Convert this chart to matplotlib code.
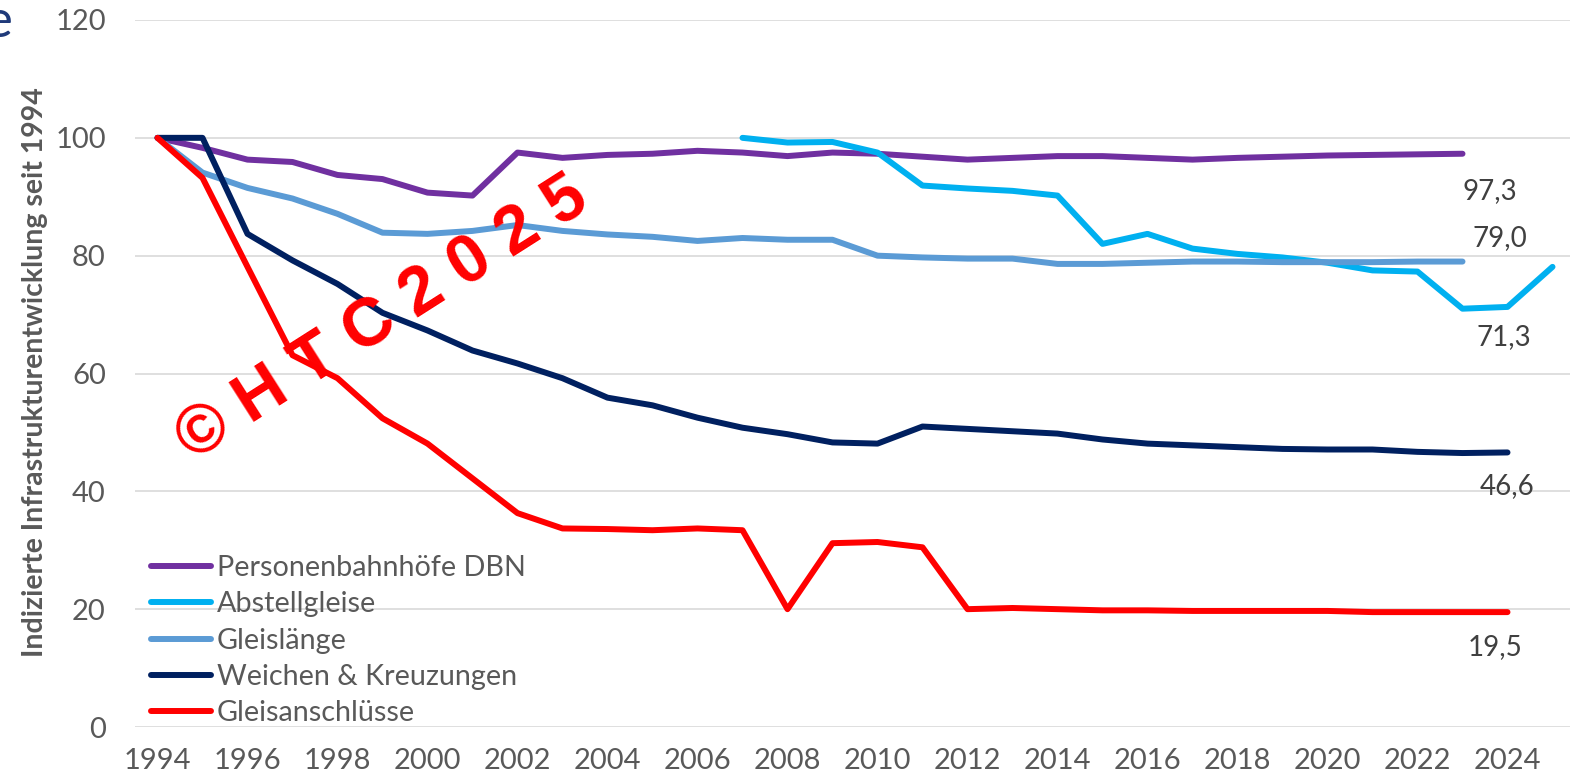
import matplotlib
matplotlib.use("Agg")
import matplotlib.pyplot as plt
import numpy as np

plt.rcParams['font.family'] = ['Lato', 'DejaVu Sans']

years = list(range(1994, 2026))

# Indexwerte (1994 = 100), None = keine Daten
personenbahnhoefe = [100, 98.3, 96.3, 95.9, 93.7, 93.0, 90.7, 90.2, 97.5, 96.6,
                     97.1, 97.3, 97.8, 97.5, 96.9, 97.5, 97.3, 96.8, 96.3, 96.6,
                     96.9, 96.9, 96.6, 96.3, 96.6, 96.8, 97.0, 97.1, 97.2, 97.3,
                     None, None]
abstellgleise = [None] * 13 + [100, 99.2, 99.3, 97.5, 91.9, 91.4, 91.0, 90.2,
                               82.0, 83.7, 81.2, 80.3, 79.7, 78.8, 77.5, 77.3,
                               71.0, 71.3, 78.1]
gleislaenge = [100, 94.1, 91.5, 89.7, 87.1, 83.9, 83.7, 84.2, 85.2, 84.2,
               83.6, 83.2, 82.5, 83.0, 82.7, 82.7, 80.0, 79.7, 79.5, 79.5,
               78.6, 78.6, 78.8, 79.0, 79.0, 78.9, 78.9, 78.9, 79.0, 79.0,
               None, None]
weichen = [100, 100, 83.7, 79.2, 75.2, 70.3, 67.3, 63.9, 61.7, 59.2,
           55.9, 54.6, 52.5, 50.8, 49.7, 48.3, 48.1, 51.0, 50.6, 50.2,
           49.8, 48.8, 48.1, 47.8, 47.5, 47.2, 47.1, 47.1, 46.7, 46.5,
           46.6, None]
gleisanschluesse = [100, 93.2, 78.1, 63.1, 59.2, 52.4, 48.1, 42.2, 36.3, 33.7,
                    33.6, 33.4, 33.7, 33.4, 20.0, 31.2, 31.4, 30.5, 20.0, 20.2,
                    20.0, 19.8, 19.8, 19.7, 19.7, 19.7, 19.7, 19.5, 19.5, 19.5,
                    19.5, None]

series_names = ["Personenbahnhöfe DBN", "Abstellgleise", "Gleislänge",
                "Weichen & Kreuzungen", "Gleisanschlüsse"]
series_values = [personenbahnhoefe, abstellgleise, gleislaenge, weichen, gleisanschluesse]
colors = ["#7030A0", "#00B0F0", "#5B9BD5", "#002060", "#FF0000"]

# Datenbeschriftung: Jahr des beschrifteten Punkts und Versatz (pt)
label_years = [2023, 2024, 2023, 2024, 2024]
label_offsets = [(20, -27), (-3, -22), (27, 17), (0, -24), (-9, -25)]

W, H = 1570, 781
fig = plt.figure(figsize=(W / 100, H / 100), dpi=100)
ax = fig.add_axes([135 / W, 1 - 727 / H, 1 - 135 / W, (727 - 20) / H])

for name, vals, col in zip(series_names, series_values, colors):
    y = np.array([np.nan if v is None else v for v in vals], dtype=float)
    ax.plot(years, y, color=col, lw=4.3, label=name,
            solid_capstyle='round', solid_joinstyle='round')

for vals, yr, off in zip(series_values, label_years, label_offsets):
    v = vals[years.index(yr)]
    ax.annotate(f"{v:.1f}".replace('.', ','), xy=(yr, v), xytext=off,
                textcoords='offset points', ha='center', va='center',
                fontsize=20, color='#404040')

ax.set_xlim(1993.5, 1993.5 + (W - 135) / 45)
ax.set_ylim(0, 120)
ax.set_xticks(range(1994, 2025, 2))
ax.set_yticks(range(0, 121, 20))
ax.tick_params(axis='both', length=0, labelsize=21, labelcolor='#595959')
ax.tick_params(axis='x', pad=15)
ax.tick_params(axis='y', pad=21)
ax.grid(axis='y', color='#D9D9D9', lw=1.2)
ax.set_axisbelow(True)
for s in ax.spines.values():
    s.set_visible(False)

fig.text(35 / W, 1 - 372 / H, "Indizierte Infrastrukturentwicklung seit 1994",
         rotation=90, ha='center', va='center', fontsize=20.5,
         fontweight='bold', color='#595959')

# Rest des abgeschnittenen Titels
fig.text(13 / W, 1 - 37 / H, "e", ha='right', va='baseline',
         fontsize=38, color='#1F3A7A')

# Wasserzeichen
ax.text(1999.0, 69.3, "© H T C 2 0 2 5", rotation=32.5, rotation_mode='anchor',
        ha='center', va='center', fontsize=49, fontweight='bold',
        color='#FF0000', family='Liberation Sans', zorder=10)

ax.legend(loc='upper left', bbox_to_anchor=(151 / W, 1 - 555 / H),
          bbox_transform=fig.transFigure, frameon=False, fontsize=20.7,
          labelcolor='#595959', handlelength=2.1, handletextpad=0.2,
          labelspacing=0.36, borderpad=0, borderaxespad=0)

fig.savefig("out.png", dpi=100)
